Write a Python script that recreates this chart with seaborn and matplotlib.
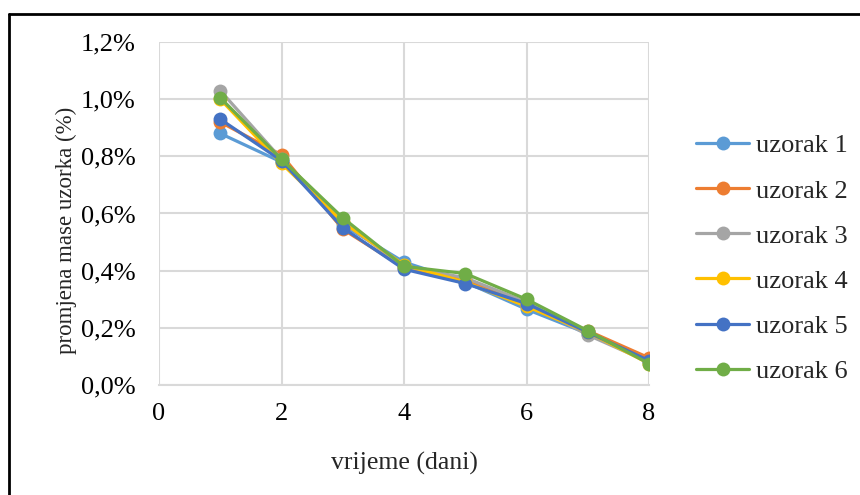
import matplotlib.pyplot as plt
import matplotlib.lines as mlines
import pandas as pd
import seaborn as sns
from matplotlib.ticker import FuncFormatter

# data (percent)
days = [1, 2, 3, 4, 5, 6, 7, 8]
uzorak_1 = [0.88, 0.78, 0.56, 0.43, 0.36, 0.265, 0.18, 0.085]
uzorak_2 = [0.92, 0.805, 0.545, 0.41, 0.37, 0.28, 0.19, 0.095]
uzorak_3 = [1.03, 0.79, 0.57, 0.415, 0.375, 0.29, 0.175, 0.08]
uzorak_4 = [1.00, 0.775, 0.57, 0.42, 0.36, 0.275, 0.185, 0.075]
uzorak_5 = [0.93, 0.785, 0.55, 0.405, 0.355, 0.285, 0.185, 0.085]
uzorak_6 = [1.005, 0.79, 0.585, 0.415, 0.39, 0.30, 0.19, 0.075]

series = {
    "uzorak 1": uzorak_1,
    "uzorak 2": uzorak_2,
    "uzorak 3": uzorak_3,
    "uzorak 4": uzorak_4,
    "uzorak 5": uzorak_5,
    "uzorak 6": uzorak_6,
}
colors = ["#5B9BD5", "#ED7D31", "#A5A5A5", "#FFC000", "#4472C4", "#70AD47"]

df = pd.DataFrame(
    [(d, name, v) for name, vals in series.items() for d, v in zip(days, vals)],
    columns=["dan", "uzorak", "vrijednost"],
)

sns.set_theme(style="white")
plt.rcParams["font.family"] = ["Liberation Serif", "DejaVu Serif"]

fig = plt.figure(figsize=(8.6, 4.95), dpi=100)
ax = fig.add_axes([159 / 860, 1 - 385 / 495, 490 / 860, 343 / 495])

sns.lineplot(
    data=df, x="dan", y="vrijednost", hue="uzorak", palette=colors,
    marker="o", markersize=10, markeredgewidth=0, linewidth=2.3,
    ax=ax, legend=True,
)

ax.set_xlim(0, 8)
ax.set_ylim(0, 1.2)
ax.set_xticks([0, 2, 4, 6, 8])
ax.set_yticks([0, 0.2, 0.4, 0.6, 0.8, 1.0, 1.2])
ax.yaxis.set_major_formatter(FuncFormatter(lambda v, _: f"{v:.1f}%".replace(".", ",")))
ax.grid(True, color="#D9D9D9", linewidth=1.5)
ax.set_axisbelow(True)
for side in ["top", "right", "left"]:
    ax.spines[side].set_visible(False)
ax.spines["bottom"].set_color("#D9D9D9")
ax.spines["bottom"].set_linewidth(1.5)
ax.tick_params(axis="both", length=0, labelsize=19, colors="black")
ax.tick_params(axis="y", pad=17)
ax.tick_params(axis="x", pad=13)
ax.set_xlabel("vrijeme (dani)", fontsize=18.5, labelpad=19)
ax.set_ylabel("promjena mase uzorka (%)", fontsize=16.5)
ax.yaxis.set_label_coords(-0.168, 0.452)

handles, labels = ax.get_legend_handles_labels()
ax.legend(
    handles, labels, loc="center left", bbox_to_anchor=(1.048, 0.369),
    frameon=False, fontsize=19, handlelength=2.0, labelspacing=0.82,
    handletextpad=0.25,
)

# outer frame
fig.add_artist(mlines.Line2D([8.5 / 860, 1], [1 - 14 / 495, 1 - 14 / 495], color="black", linewidth=2))
fig.add_artist(mlines.Line2D([8.5 / 860, 8.5 / 860], [0, 1 - 14 / 495], color="black", linewidth=2))

fig.savefig("out.png", dpi=100)
